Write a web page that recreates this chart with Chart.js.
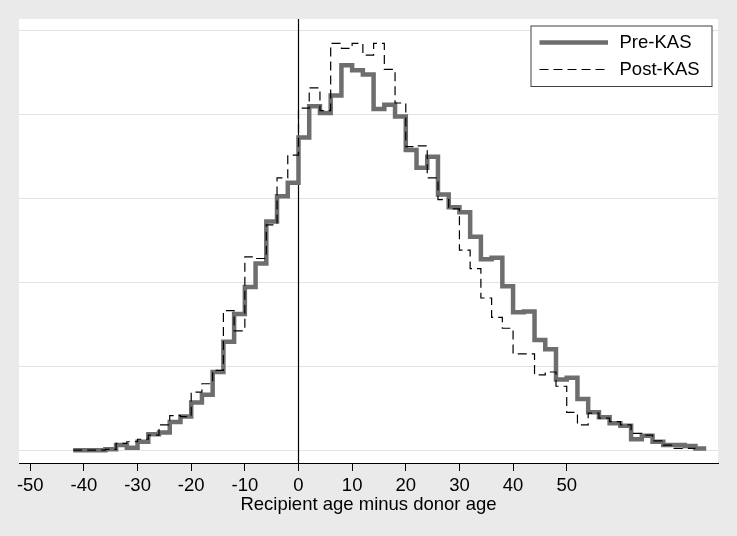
<!DOCTYPE html>
<html><head><meta charset="utf-8">
<script src="https://cdn.jsdelivr.net/npm/chart.js@4.4.1/dist/chart.umd.min.js"></script>
<style>html,body{margin:0;padding:0;background:#eaeaea;overflow:hidden;} #wrap{width:737px;height:536px;position:relative;}</style>
</head><body><div id="wrap"><canvas id="c" width="737" height="536"></canvas></div>
<script>
// Bin edges (years), bin width 2
const binEdges = [-42,-40,-38,-36,-34,-32,-30,-28,-26,-24,-22,-20,-18,-16,-14,-12,-10,-8,-6,-4,-2,
  0,2,4,6,8,10,12,14,16,18,20,22,24,26,28,30,32,34,36,38,40,42,44,46,48,50,52,54,56,58,60,62,64,66,68,70,72,74,76];
// Density per bin (starting at binEdges[i])
const preKAS = [0.00005,0.00005,0.00005,0.0001,0.00035,0.0002,0.00055,0.001,0.0011,0.00173,
  0.00205,0.00288,0.00335,0.0047,0.0065,0.00815,0.00975,0.01115,0.01365,0.01515,
  0.01595,0.01865,0.0205,0.0201,0.02115,0.02295,0.02265,0.0224,0.02035,0.0206,
  0.0199,0.0179,0.01685,0.0175,0.01525,0.0145,0.0142,0.01275,0.0114,0.0115,
  0.0098,0.00825,0.0083,0.0066,0.00605,0.00425,0.00435,0.0031,0.0023,0.002,
  0.00165,0.0015,0.0007,0.0009,0.00055,0.00035,0.00035,0.0003,0.00015];
const postKAS = [0.00005,0.00005,0.00005,0.0001,0.00045,0.00055,0.0007,0.00095,0.00155,0.0021,
  0.00205,0.0035,0.004,0.0048,0.00835,0.00715,0.01155,0.01145,0.01345,0.01625,
  0.0176,0.0204,0.0216,0.02025,0.02425,0.02395,0.02425,0.02355,0.02425,0.0227,
  0.0207,0.0181,0.01815,0.01625,0.01495,0.0144,0.01195,0.01085,0.0091,0.00795,
  0.0073,0.00578,0.00578,0.00453,0.0047,0.00385,0.0023,0.00155,0.00225,0.00195,
  0.00175,0.00155,0.00105,0.00095,0.0006,0.00035,0.00015,0.00015];
const seriesNames = ['Pre-KAS','Post-KAS'];
const xTickValues = [-50,-40,-30,-20,-10,0,10,20,30,40,50];
const yGridValues = [0,0.005,0.01,0.015,0.02,0.025];
const xAxisTitle = 'Recipient age minus donor age';
const referenceLineX = 0;

function stepPoints(vals){
  const pts = vals.map((v,i)=>({x:binEdges[i], y:v}));
  pts.push({x:binEdges[vals.length], y:vals[vals.length-1]});
  return pts;
}
const FONT = "'Liberation Sans', Arial, sans-serif";
const FS = 18.5;

const bgPlugin = {
  id:'bg',
  beforeDraw(chart){
    const {ctx, chartArea:a} = chart;
    ctx.save();
    ctx.fillStyle = '#eaeaea';
    ctx.fillRect(0,0,chart.width,chart.height);
    ctx.fillStyle = '#ffffff';
    ctx.fillRect(a.left, a.top, a.right-a.left, a.bottom-a.top);
    ctx.restore();
  },
  beforeDatasetsDraw(chart){
    const {ctx, chartArea:a, scales} = chart;
    const x = Math.round(scales.x.getPixelForValue(referenceLineX)) + 0.5;
    ctx.save();
    ctx.strokeStyle = '#000';
    ctx.lineWidth = 1.2;
    ctx.beginPath(); ctx.moveTo(x, a.top); ctx.lineTo(x, a.bottom); ctx.stroke();
    ctx.restore();
  }
};
const legendPlugin = {
  id:'boxLegend',
  afterDraw(chart){
    const {ctx, chartArea:a} = chart;
    const w = 181, h = 60.5;
    const x0 = a.right - 6.5 - w, y0 = a.top + 6.5;
    ctx.save();
    ctx.fillStyle = '#fff';
    ctx.fillRect(x0, y0, w, h);
    ctx.strokeStyle = '#404040';
    ctx.lineWidth = 1;
    ctx.strokeRect(x0+0.5, y0+0.5, w, h);
    chart.data.datasets.forEach((ds,i)=>{
      const y = y0 + 17 + i*27;
      ctx.strokeStyle = ds.borderColor;
      ctx.lineWidth = ds.borderWidth;
      ctx.setLineDash(ds.borderDash || []);
      ctx.beginPath(); ctx.moveTo(x0+9, y); ctx.lineTo(x0+77.5, y); ctx.stroke();
      ctx.setLineDash([]);
      ctx.fillStyle = '#000';
      ctx.font = FS + 'px ' + FONT;
      ctx.textBaseline = 'middle';
      ctx.textAlign = 'left';
      ctx.fillText(ds.label, x0+89, y);
    });
    ctx.restore();
  }
};

new Chart(document.getElementById('c'), {
  type:'line',
  data:{
    datasets:[
      {label:seriesNames[0], data:stepPoints(preKAS), stepped:'before', borderColor:'#6e6e6e', borderWidth:4.5,
        pointRadius:0, fill:false, borderJoinStyle:'miter', borderCapStyle:'butt', order:1},
      {label:seriesNames[1], data:stepPoints(postKAS), stepped:'before', borderColor:'#000', borderWidth:1.2,
        borderDash:[9,5], pointRadius:0, fill:false, borderJoinStyle:'miter', borderCapStyle:'butt', order:0}
    ]
  },
  options:{
    responsive:false, animation:false, devicePixelRatio:1,
    layout:{padding:{left:19, right:19, top:19, bottom:0}},
    plugins:{legend:{display:false}, tooltip:{enabled:false}},
    scales:{
      x:{type:'linear', min:-52.1, max:78.2,
        afterBuildTicks(s){ s.ticks = xTickValues.map(v=>({value:v})); },
        afterFit(s){ s.height = 73; },
        grid:{drawOnChartArea:false, drawTicks:true, tickLength:8, tickColor:'#000', tickWidth:1},
        border:{display:true, color:'#000', width:1},
        ticks:{autoSkip:false, maxRotation:0, padding:4, color:'#000', font:{family:FONT, size:FS},
          callback:(v)=>String(v)},
        title:{display:true, text:xAxisTitle, color:'#000', font:{family:FONT, size:FS}, padding:{top:0, bottom:20}}
      },
      y:{min:-0.000714, max:0.025696,
        afterBuildTicks(s){ s.ticks = yGridValues.map(v=>({value:v})); },
        afterFit(s){ s.width = 0; },
        grid:{color:'#e2e2e2', lineWidth:1, drawTicks:false},
        border:{display:false},
        ticks:{display:false}
      }
    }
  },
  plugins:[bgPlugin, legendPlugin]
});
</script></body></html>
